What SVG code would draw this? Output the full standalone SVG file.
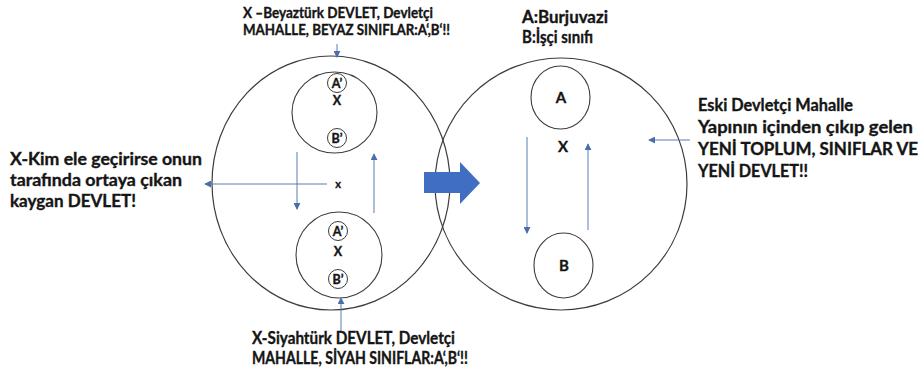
<svg xmlns="http://www.w3.org/2000/svg" width="920" height="374" viewBox="0 0 920 374">
<style>
  .t { font-family: Lato, "Liberation Sans", "Noto Sans", sans-serif; font-weight: bold; fill: #151515; stroke: #151515; stroke-width: 0.35; }
  .big { fill: none; stroke: #3c3c3c; stroke-width: 1.2; }
  .small { fill: none; stroke: #3c3c3c; stroke-width: 1.1; }
  .tiny { fill: #fff; stroke: #3c3c3c; stroke-width: 1; }
  .conn { fill: none; stroke: #5a7db0; stroke-width: 1; }
</style>
<defs>
  <marker id="ah" viewBox="0 0 8 8" refX="7" refY="4" markerWidth="7" markerHeight="7" markerUnits="userSpaceOnUse" orient="auto">
    <path d="M0,0 L8,4 L0,8 Z" fill="#4a6ea8"/>
  </marker>
</defs>
<rect width="920" height="374" fill="#ffffff"/>

<g id="left-state">
  <ellipse class="big" cx="331" cy="183" rx="119" ry="127"/>
</g>
<g id="right-state">
  <ellipse class="big" cx="561" cy="184" rx="126" ry="126"/>
</g>

<g id="white-class">
  <ellipse class="small" cx="334.5" cy="112.5" rx="42.5" ry="40.5"/>
  <circle class="tiny" cx="337" cy="83" r="9.5"/>
  <text class="t" x="337" y="87.5" font-size="12.5" text-anchor="middle">A’</text>
  <text class="t" x="337" y="105" font-size="12.5" text-anchor="middle">X</text>
  <circle class="tiny" cx="337" cy="138" r="9.5"/>
  <text class="t" x="337" y="142.5" font-size="12.5" text-anchor="middle">B’</text>
</g>

<g id="black-class">
  <ellipse class="small" cx="339" cy="255" rx="43" ry="43"/>
  <circle class="tiny" cx="338" cy="231" r="9.5"/>
  <text class="t" x="338" y="235.5" font-size="12.5" text-anchor="middle">A’</text>
  <text class="t" x="338" y="256" font-size="12.5" text-anchor="middle">X</text>
  <circle class="tiny" cx="338" cy="279" r="9.5"/>
  <text class="t" x="338" y="283.5" font-size="12.5" text-anchor="middle">B’</text>
</g>

<g id="center-x">
  <text class="t" x="338" y="188" font-size="11" text-anchor="middle">x</text>
</g>

<g id="bourgeoisie">
  <ellipse class="small" cx="560.5" cy="97.5" rx="29.5" ry="31.5"/>
  <text class="t" x="561" y="103" font-size="15" text-anchor="middle">A</text>
</g>
<g id="right-x">
  <text class="t" x="563" y="152" font-size="15" text-anchor="middle">X</text>
</g>
<g id="working-class">
  <ellipse class="small" cx="563.5" cy="265.5" rx="29.5" ry="32.5"/>
  <text class="t" x="564" y="271" font-size="15" text-anchor="middle">B</text>
</g>

<g id="big-arrow">
  <polygon points="424,172 460,172 460,162 480,183 460,204 460,193 424,193" fill="#3f6ec2"/>
</g>

<g id="connectors">
  <line class="conn" x1="337" y1="44" x2="337" y2="57" marker-end="url(#ah)"/>
  <line class="conn" x1="341" y1="332" x2="341" y2="298" marker-end="url(#ah)"/>
  <line class="conn" x1="327" y1="184" x2="205" y2="184" marker-end="url(#ah)"/>
  <line class="conn" x1="297" y1="152" x2="297" y2="209" marker-end="url(#ah)"/>
  <line class="conn" x1="374" y1="213" x2="374" y2="154" marker-end="url(#ah)"/>
  <line class="conn" x1="527" y1="137" x2="527" y2="233" marker-end="url(#ah)"/>
  <line class="conn" x1="588" y1="230" x2="588" y2="144" marker-end="url(#ah)"/>
  <line class="conn" x1="690" y1="140" x2="649" y2="140" marker-end="url(#ah)"/>
</g>

<g id="label-top">
  <text class="t" x="243" y="18" font-size="14.5" textLength="190" lengthAdjust="spacingAndGlyphs">X –Beyaztürk DEVLET,  Devletçi</text>
  <text class="t" x="243" y="35" font-size="14.5" textLength="207" lengthAdjust="spacingAndGlyphs">MAHALLE, BEYAZ SINIFLAR:A‘,B‘!!</text>
</g>

<g id="label-left">
  <text class="t" x="10" y="165" font-size="16.5" textLength="192" lengthAdjust="spacingAndGlyphs">X-Kim ele geçirirse onun</text>
  <text class="t" x="10" y="186" font-size="16.5" textLength="172" lengthAdjust="spacingAndGlyphs">tarafında ortaya çıkan</text>
  <text class="t" x="10" y="207" font-size="16.5" textLength="126" lengthAdjust="spacingAndGlyphs">kaygan DEVLET!</text>
</g>

<g id="label-legend">
  <text class="t" x="522" y="23" font-size="16.5" textLength="86" lengthAdjust="spacingAndGlyphs">A:Burjuvazi</text>
  <text class="t" x="522" y="43" font-size="16.5" textLength="71" lengthAdjust="spacingAndGlyphs">B:İşçi sınıfı</text>
</g>

<g id="label-right">
  <text class="t" x="698" y="111" font-size="16.5" textLength="155" lengthAdjust="spacingAndGlyphs">Eski Devletçi Mahalle</text>
  <text class="t" x="698" y="133" font-size="16.5" textLength="215" lengthAdjust="spacingAndGlyphs">Yapının içinden çıkıp gelen</text>
  <text class="t" x="698" y="155" font-size="16.5" textLength="220" lengthAdjust="spacingAndGlyphs">YENİ TOPLUM, SINIFLAR VE</text>
  <text class="t" x="698" y="177" font-size="16.5" textLength="110" lengthAdjust="spacingAndGlyphs">YENİ DEVLET!!</text>
</g>

<g id="label-bottom">
  <text class="t" x="252" y="344" font-size="16.5" textLength="203" lengthAdjust="spacingAndGlyphs">X-Siyahtürk DEVLET, Devletçi</text>
  <text class="t" x="252" y="364" font-size="16.5" textLength="216" lengthAdjust="spacingAndGlyphs">MAHALLE, SİYAH SINIFLAR:A‘,B‘!!</text>
</g>
</svg>
